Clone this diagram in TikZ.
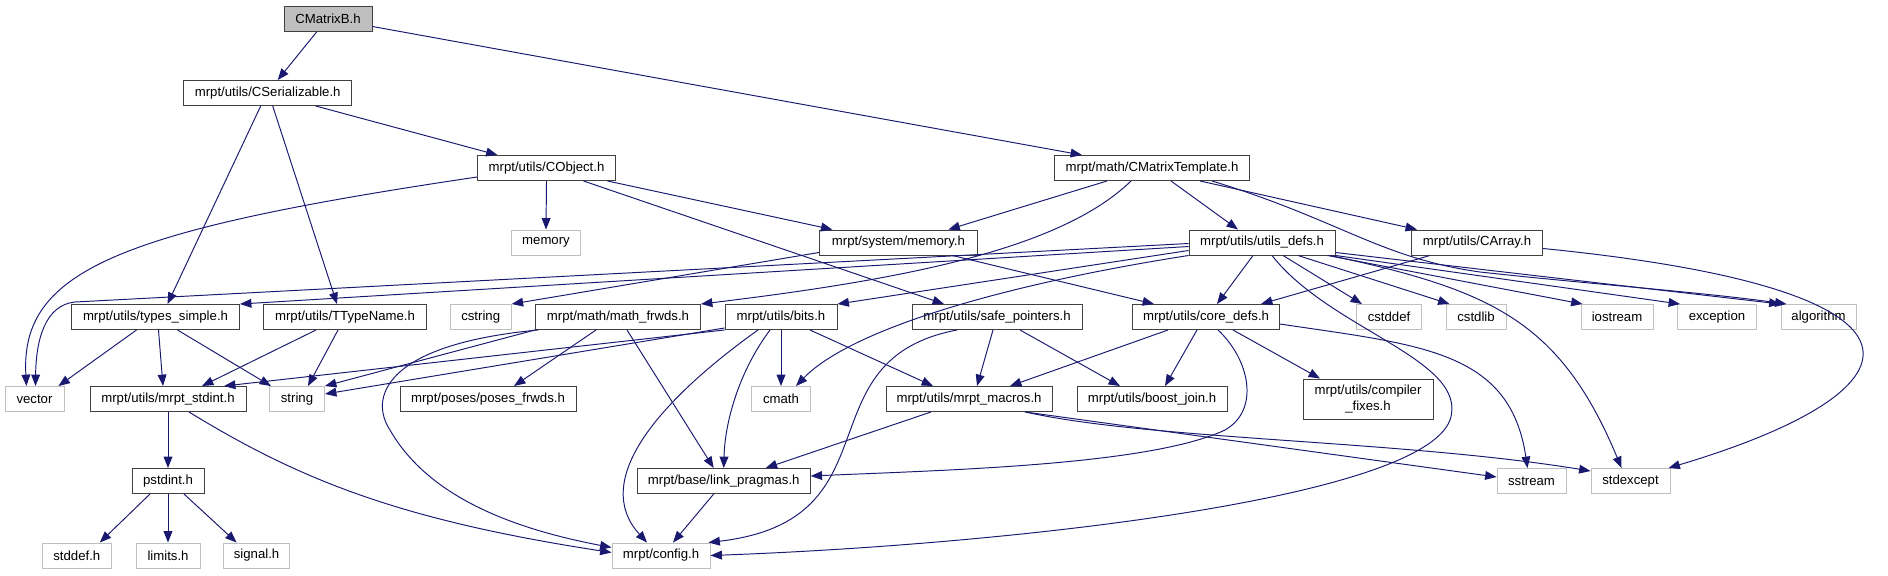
\documentclass[tikz,border=0pt]{standalone}
\usepackage{fontspec}
\setmainfont{Liberation Sans}
\usetikzlibrary{arrows.meta,calc}

\definecolor{edgeblue}{RGB}{25,25,112}
\tikzset{
  hdr/.style={draw=black!75, line width=0.55pt, fill=white, minimum height=0.5cm,
    inner sep=0pt, font=\fontsize{7.5}{9}\selectfont},
  syshdr/.style={hdr, draw=black!25},
  roothdr/.style={hdr, fill=black!25},
  dep/.style={edgeblue, line width=0.55pt, -{Triangle[length=6.5pt,width=5pt]}}
}

\begin{document}
\begin{tikzpicture}[x=0.02cm,y=-0.02cm]
\useasboundingbox (0,0) rectangle (1888,575);

% rows of headers
\node[roothdr, minimum width=1.76cm] (cmb) at (328,18.5) {CMatrixB.h};
\node[hdr, minimum width=3.36cm] (cser) at (267.7,93) {mrpt/utils/CSerializable.h};
\node[hdr, minimum width=2.76cm] (cobj) at (546.5,168) {mrpt/utils/CObject.h};
\node[hdr, minimum width=3.9cm] (cmt) at (1152,168) {mrpt/math/CMatrixTemplate.h};
\node[syshdr, minimum width=1.38cm] (memory) at (546,242.5) {memory};
\node[hdr, minimum width=3.16cm] (sysmem) at (898.4,242.5) {mrpt/system/memory.h};
\node[hdr, minimum width=2.92cm] (udefs) at (1262,242.5) {mrpt/utils/utils\_defs.h};
\node[hdr, minimum width=2.62cm] (carray) at (1477,242.5) {mrpt/utils/CArray.h};
\node[hdr, minimum width=3.36cm] (tsimple) at (155.5,317) {mrpt/utils/types\_simple.h};
\node[hdr, minimum width=3.26cm] (ttype) at (345,317) {mrpt/utils/TTypeName.h};
\node[syshdr, minimum width=1.22cm] (cstring) at (480.7,317) {cstring};
\node[hdr, minimum width=3.3cm] (mfrwds) at (618,317) {mrpt/math/math\_frwds.h};
\node[hdr, minimum width=2.24cm] (bits) at (781,317) {mrpt/utils/bits.h};
\node[hdr, minimum width=3.4cm] (safep) at (997,317) {mrpt/utils/safe\_pointers.h};
\node[hdr, minimum width=2.94cm] (cdefs) at (1206,317) {mrpt/utils/core\_defs.h};
\node[syshdr, minimum width=1.3cm] (cstddef) at (1389,317) {cstddef};
\node[syshdr, minimum width=1.2cm] (cstdlib) at (1476,317) {cstdlib};
\node[syshdr, minimum width=1.44cm] (iostream) at (1617,317) {iostream};
\node[syshdr, minimum width=1.58cm] (exception) at (1717,317) {exception};
\node[syshdr, minimum width=1.5cm] (algorithm) at (1818.5,317) {algorithm};
\node[syshdr, minimum width=1.18cm] (vector) at (34.5,399) {vector};
\node[hdr, minimum width=3.12cm] (stdint) at (168,399) {mrpt/utils/mrpt\_stdint.h};
\node[syshdr, minimum width=1.1cm] (string) at (297,399) {string};
\node[hdr, minimum width=3.52cm] (poses) at (488,399) {mrpt/poses/poses\_frwds.h};
\node[syshdr, minimum width=1.18cm] (cmath) at (781,399) {cmath};
\node[hdr, minimum width=3.32cm] (macros) at (969,399) {mrpt/utils/mrpt\_macros.h};
\node[hdr, minimum width=3cm] (bjoin) at (1152,399) {mrpt/utils/boost\_join.h};
\node[hdr, minimum width=2.6cm, minimum height=0.8cm, align=center] (cfixes) at (1368,399) {mrpt/utils/compiler\\\_fixes.h};
\node[hdr, minimum width=1.44cm] (pstdint) at (168,481) {pstdint.h};
\node[hdr, minimum width=3.46cm] (linkp) at (723.7,481) {mrpt/base/link\_pragmas.h};
\node[syshdr, minimum width=1.38cm] (sstream) at (1531.5,481) {sstream};
\node[syshdr, minimum width=1.58cm] (stdexcept) at (1630.5,481) {stdexcept};
\node[syshdr, minimum width=1.38cm] (stddef) at (76.8,555.5) {stddef.h};
\node[syshdr, minimum width=1.28cm] (limits) at (168,555.5) {limits.h};
\node[syshdr, minimum width=1.32cm] (signal) at (256.6,555.5) {signal.h};
\node[syshdr, minimum width=1.96cm] (config) at (661,555.5) {mrpt/config.h};

% CMatrixB.h
\draw[dep] ($(cmb.south)+(-11,0)$) -- ($(cser.north)+(10,0)$);
\draw[dep] ($(cmb.east)+(0,8)$) -- ($(cmt.north)+(-70,0)$);
% CSerializable.h
\draw[dep] ($(cser.south)+(48,0)$) -- ($(cobj.north)+(-49,0)$);
\draw[dep] ($(cser.south)+(-7,0)$) -- ($(tsimple.north)+(12,0)$);
\draw[dep] ($(cser.south)+(5,0)$) -- ($(ttype.north)+(-8,0)$);
% CObject.h
\draw[dep] (cobj.south) -- (memory.north);
\draw[dep] ($(cobj.south)+(61,0)$) -- ($(sysmem.north)+(-66,0)$);
\draw[dep] ($(cobj.south)+(37,0)$) -- ($(safep.north)+(-53,0)$);
\draw[dep] ($(cobj.west)+(0,9)$) .. controls (120,230) and (20,270) .. ($(vector.north)+(-8,0)$);
% CMatrixTemplate.h
\draw[dep] ($(cmt.south)+(-45,0)$) -- ($(sysmem.north)+(50,0)$);
\draw[dep] ($(cmt.south)+(-21,0)$) .. controls (1060,250) and (900,280) .. (mfrwds.north east);
\draw[dep] ($(cmt.south)+(19,0)$) -- ($(udefs.north)+(-24,0)$);
\draw[dep] ($(cmt.south)+(48,0)$) -- ($(carray.north)+(-60,0)$);
\draw[dep] ($(cmt.south)+(60,0)$) .. controls (1340,220) and (1380,258) .. (1480,272)
  .. controls (1600,285) and (1700,292) .. ($(algorithm.north west)+(6,0)$);
% CArray.h
\draw[dep] ($(carray.south)+(-47,0)$) -- ($(cdefs.north)+(55,0)$);
\draw[dep] ($(carray.east)+(0,6)$) .. controls (1960,290) and (1930,390) .. ($(stdexcept.north east)+(-2,0)$);
% system/memory.h
\draw[dep] ($(sysmem.south west)+(0,-3)$) -- (cstring.north east);
\draw[dep] ($(sysmem.south)+(54,0)$) -- ($(cdefs.north)+(-52,0)$);
% utils_defs.h
\draw[dep] ($(udefs.south)+(-9,0)$) -- ($(cdefs.north)+(11,0)$);
\draw[dep] ($(udefs.south)+(21,0)$) -- ($(cstddef.north)+(-27,0)$);
\draw[dep] ($(udefs.south)+(36,0)$) -- ($(cstdlib.north west)+(4,0)$);
\draw[dep] ($(udefs.south east)+(-8,0)$) -- ($(iostream.north west)+(2,0)$);
\draw[dep] (udefs.south east) -- ($(exception.north west)+(3,0)$);
\draw[dep] ($(udefs.east)+(0,10)$) -- (algorithm.north west);
\draw[dep] ($(udefs.south east)+(-5,0)$) .. controls (1490,290) and (1560,320) .. ($(stdexcept.north)+(-9,0)$);
\draw[dep] ($(udefs.west)+(0,4)$) -- (tsimple.north east);
\draw[dep] ($(udefs.west)+(0,1)$) -- (75,302) .. controls (45,305) and (36,340) .. ($(vector.north)+(1,0)$);
\draw[dep] ($(udefs.west)+(0,8)$) -- (bits.north east);
\draw[dep] (udefs.south west) .. controls (1000,285) and (850,330) .. ($(cmath.north)+(15,0)$);
\draw[dep] ($(udefs.south)+(10,0)$) .. controls (1330,330) and (1470,360) .. (1450,420)
  .. controls (1420,500) and (1000,545) .. (config.east);
% core_defs.h
\draw[dep] ($(cdefs.south)+(-38,0)$) -- ($(macros.north)+(41,0)$);
\draw[dep] ($(cdefs.south)+(-9,0)$) -- ($(bjoin.north)+(13,0)$);
\draw[dep] ($(cdefs.south)+(27,0)$) -- ($(cfixes.north)+(-48,0)$);
\draw[dep] ($(cdefs.south)+(12,0)$) .. controls (1250,360) and (1260,410) .. (1225,430)
  .. controls (1150,465) and (950,470) .. ($(linkp.east)+(0,-5)$);
\draw[dep] ($(cdefs.east)+(0,7)$) .. controls (1420,345) and (1510,350) .. ($(sstream.north)+(-4,0)$);
% safe_pointers.h
\draw[dep] ($(safep.south)+(-4,0)$) -- ($(macros.north)+(8,0)$);
\draw[dep] ($(safep.south)+(23,0)$) -- ($(bjoin.north)+(-32,0)$);
\draw[dep] ($(safep.south)+(-40,0)$) .. controls (800,360) and (900,520) .. ($(config.north east)+(-2,0)$);
% bits.h
\draw[dep] ($(bits.south west)+(0,-2)$) -- ($(string.east)+(0,-5)$);
\draw[dep] (bits.south west) -- ($(stdint.north)+(56,0)$);
\draw[dep] ($(bits.south)+(-23,0)$) .. controls (660,400) and (590,480) .. ($(config.north)+(-14,0)$);
\draw[dep] ($(bits.south)+(-11,0)$) .. controls (740,370) and (725,420) .. (linkp.north);
\draw[dep] (bits.south) -- (cmath.north);
\draw[dep] ($(bits.south)+(29,0)$) -- ($(macros.north)+(-36,0)$);
% math_frwds.h
\draw[dep] (mfrwds.south west) -- (string.north east);
\draw[dep] ($(mfrwds.south west)+(3,0)$) .. controls (380,345) and (370,400) .. (390,430)
  .. controls (430,500) and (520,530) .. ($(config.west)+(0,-8)$);
\draw[dep] ($(mfrwds.south)+(-22,0)$) -- ($(poses.north)+(26,0)$);
\draw[dep] ($(mfrwds.south)+(9,0)$) -- ($(linkp.north)+(-10,0)$);
% types_simple.h, TTypeName.h
\draw[dep] ($(tsimple.south)+(-19,0)$) -- ($(vector.north east)+(-6,0)$);
\draw[dep] ($(tsimple.south)+(3,0)$) -- ($(stdint.north)+(-5,0)$);
\draw[dep] ($(tsimple.south)+(22,0)$) -- ($(string.north west)+(2,0)$);
\draw[dep] ($(ttype.south)+(-29,0)$) -- ($(stdint.north)+(34,0)$);
\draw[dep] ($(ttype.south)+(-7,0)$) -- ($(string.north)+(11,0)$);
% mrpt_stdint.h, pstdint.h
\draw[dep] (stdint.south) -- (pstdint.north);
\draw[dep] ($(stdint.south)+(21,0)$) .. controls (300,480) and (400,520) .. ($(config.west)+(0,-3)$);
\draw[dep] ($(pstdint.south)+(-18,0)$) -- ($(stddef.north)+(23,0)$);
\draw[dep] (pstdint.south) -- (limits.north);
\draw[dep] ($(pstdint.south)+(16,0)$) -- ($(signal.north)+(-20,0)$);
% link_pragmas.h, mrpt_macros.h
\draw[dep] ($(linkp.south)+(-10,0)$) -- ($(config.north)+(12,0)$);
\draw[dep] ($(macros.south)+(-38,0)$) -- ($(linkp.north)+(42,0)$);
\draw[dep] ($(macros.south)+(56,0)$) -- ($(sstream.west)+(0,-4)$);
\draw[dep] ($(macros.south east)+(-27,0)$) .. controls (1150,440) and (1400,440) .. ($(stdexcept.west)+(0,-10)$);
\end{tikzpicture}
\end{document}
